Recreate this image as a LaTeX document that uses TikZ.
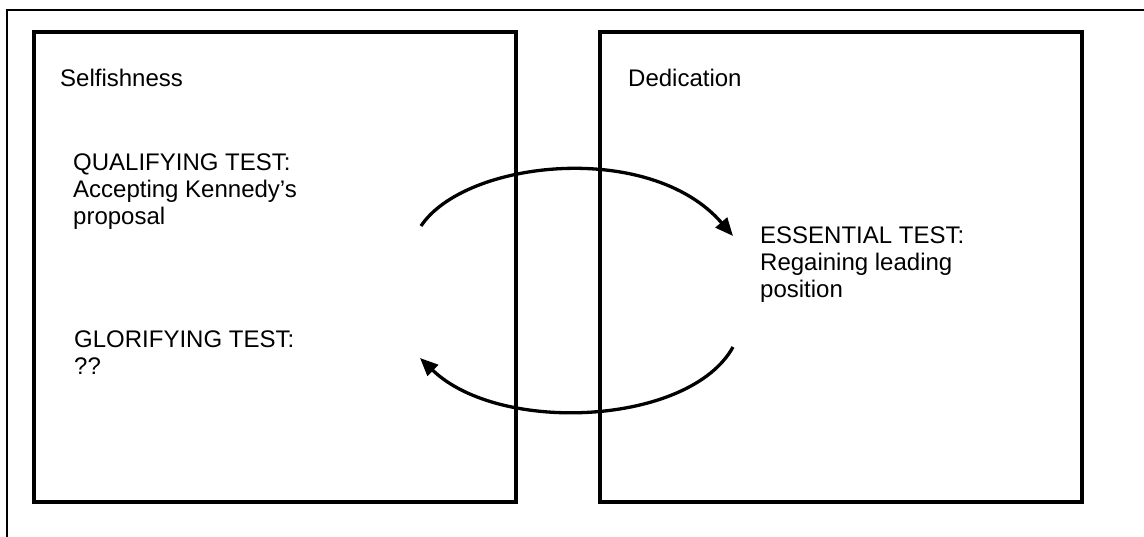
\documentclass[tikz,border=0pt]{standalone}
\usepackage{fontspec}
\setmainfont{Liberation Sans}
\usetikzlibrary{positioning,arrows.meta}
\tikzset{
    panel/.style={draw, line width=3.3pt, minimum width=482pt, minimum height=470pt, inner sep=0pt},
    txt/.style={anchor=base west, align=left, inner sep=0pt, font=\fontsize{24}{27}\selectfont},
    arc/.style={line width=3.3pt, -{Triangle[length=18pt,width=15pt]}}
}

\begin{document}
\begin{tikzpicture}[x=1pt, y=-1pt]
    \useasboundingbox (0,0) rectangle (1144,536);
    \draw[line width=1.3pt] (7,10) rectangle (1170,570);
    \node[panel] (self) at (275,267) {};
    \node[panel] (ded) at (841,267) {};
    % base of a node with several lines is its last line
    \node[txt] (selft) at (60,86.5) {Selfishness};
    \node[txt] (dedt) at (628,86.5) {Dedication};
    \node[txt] (qual) at (73,224.7) {QUALIFYING TEST:\\Accepting Kennedy’s\\proposal};
    \node[txt] (ess) at (760,297.3) {ESSENTIAL TEST:\\Regaining leading\\position};
    \node[txt] (glor) at (74,374) {GLORIFYING TEST:\\??};
    % ends of the two arcs
    \coordinate (q1) at (421,226); \coordinate (e1) at (733,236);
    \coordinate (e2) at (733,347); \coordinate (g1) at (420,358);
    \draw[arc] (q1) .. controls (465,160) and (650,140) .. (e1);
    \draw[arc] (e2) .. controls (690,425) and (500,435) .. (g1);
\end{tikzpicture}
\end{document}
